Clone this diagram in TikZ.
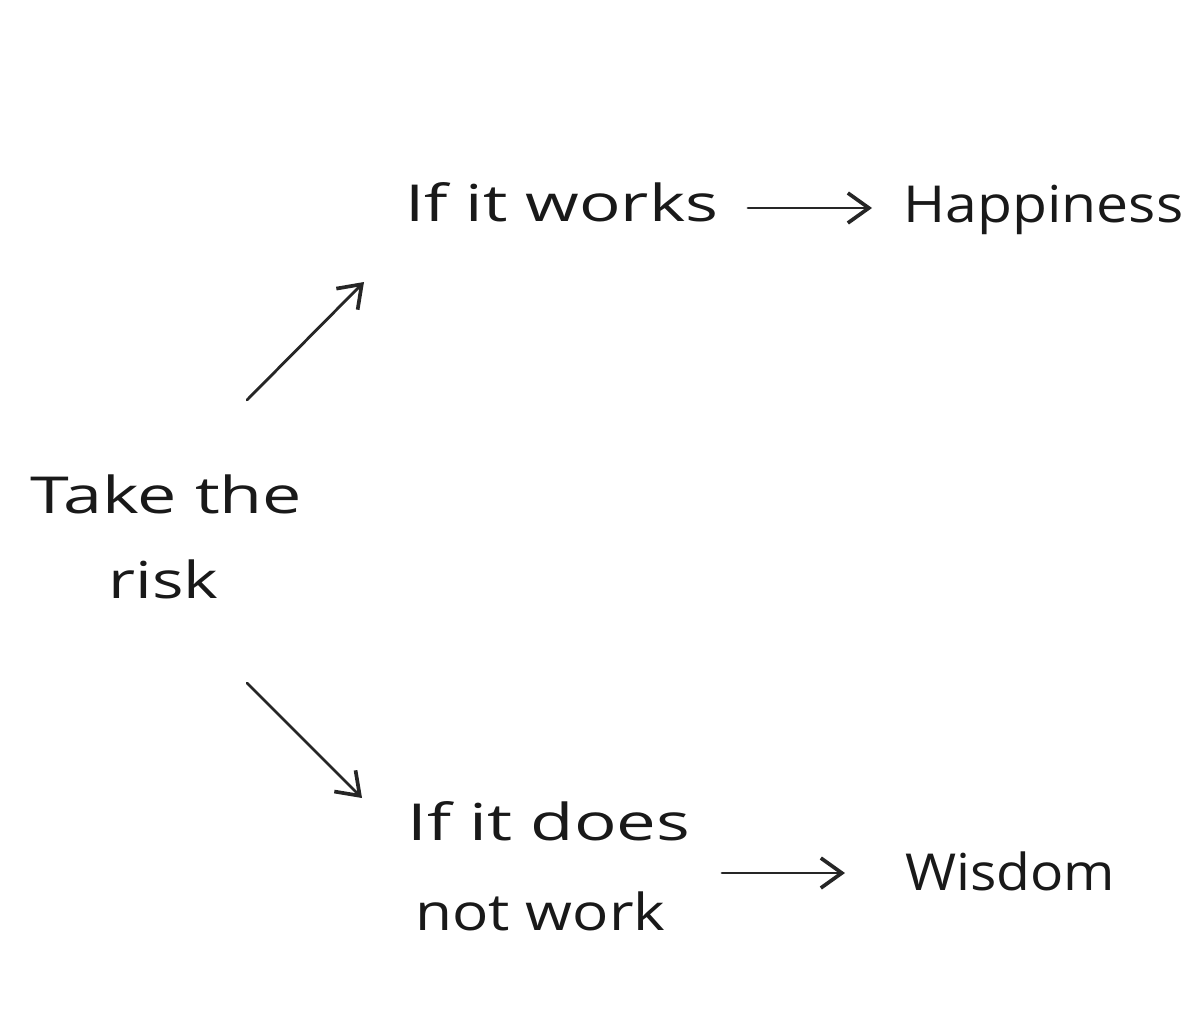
\documentclass[tikz,border=0pt]{standalone}
\usepackage{fontspec}
\setmainfont{Open Sans}
\usetikzlibrary{arrows.meta}
\newcommand\fitw[2]{\resizebox{#1}{\height}{#2}}
\begin{document}
\begin{tikzpicture}[x=0.02cm,y=-0.02cm,
  lbl/.style={inner sep=0pt,anchor=base west,font=\fontsize{29}{40}\selectfont,text=black!90},
  arr/.style={line width=1.6pt,black!85,line cap=round,-{Straight Barb[length=0.42cm,width=0.6cm,line width=2.1pt]}}]
\useasboundingbox (0,0) rectangle (1200,1024);
\node[lbl] (works) at (405,221) {\fitw{6.26cm}{If it works}};
\node[lbl] (happy) at (903,222) {\fitw{5.6cm}{Happiness}};
\node[lbl] (take) at (30,513) {\fitw{5.44cm}{Take the}};
\node[lbl] (risk) at (108,598) {\fitw{2.2cm}{risk}};
\node[lbl] (does) at (407,840) {\fitw{5.66cm}{If it does}};
\node[lbl] (notwork) at (415,930) {\fitw{5.0cm}{not work}};
\node[lbl] (wisdom) at (905,890) {\fitw{4.2cm}{Wisdom}};
\coordinate (a1s) at (247,400);
\coordinate (a1e) at (364,282);
\coordinate (a2s) at (247,683);
\coordinate (a2e) at (362,798);
\coordinate (a3s) at (748,208);
\coordinate (a3e) at (872,208);
\coordinate (a4s) at (722,873);
\coordinate (a4e) at (845,873);
\draw[arr] (a1s) -- (a1e);
\draw[arr] (a2s) -- (a2e);
\draw[arr] (a3s) -- (a3e);
\draw[arr] (a4s) -- (a4e);
\end{tikzpicture}
\end{document}
